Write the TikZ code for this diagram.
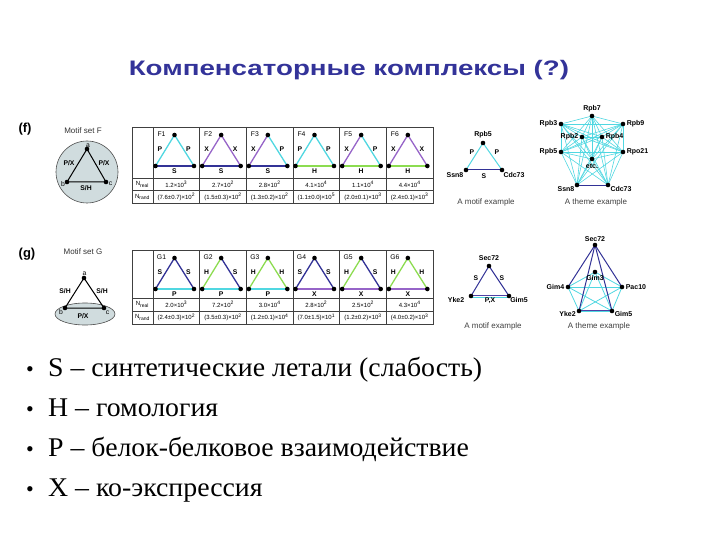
\documentclass[tikz,border=0pt]{standalone}
\usepackage{fontspec}
\setmainfont{Liberation Serif}
\newfontfamily\hv{Liberation Sans}
\usetikzlibrary{backgrounds,shapes.geometric}
\definecolor{cP}{RGB}{80,215,225}
\definecolor{cS}{RGB}{50,50,150}
\definecolor{cX}{RGB}{150,100,200}
\definecolor{cH}{RGB}{140,220,80}
\definecolor{ttl}{RGB}{51,51,153}
\definecolor{mfill}{RGB}{208,220,222}
\newcommand{\tn}[1]{\texttimes10\textsuperscript{#1}}
\newcommand{\mtri}[9]{%
 \node[dot] (#1a) at ({#2+21.5},{#3+8}) {};
 \node[dot] (#1b) at ({#2+2.5},{#3+39}) {};
 \node[dot] (#1c) at ({#2+41},{#3+39}) {};
 \begin{pgfonlayer}{background}
 \draw[tedge,#4] (#1a.center)--(#1b.center);
 \draw[tedge,#6] (#1a.center)--(#1c.center);
 \draw[tedge,#8] (#1b.center)--(#1c.center);
 \end{pgfonlayer}
 \node[cl] (#1n) at ({#2+8.5},{#3+7}) {#1};
 \node[el] (#1l) at ({#2+7},{#3+22}) {#5};
 \node[el] (#1r) at ({#2+35.5},{#3+22}) {#7};
 \node[el] (#1s) at ({#2+21.5},{#3+44}) {#9};
}
\begin{document}
\begin{tikzpicture}[x=1pt,y=-1pt,
 dot/.style={circle,fill=black,minimum size=4.6pt,inner sep=0},
 cl/.style={font=\hv\fontsize{6.8}{7}\selectfont,inner sep=0},
 el/.style={font=\hv\bfseries\fontsize{6.8}{7}\selectfont,inner sep=0},
 num/.style={font=\hv\fontsize{6}{6.5}\selectfont,inner sep=0},
 nl/.style={font=\hv\bfseries\fontsize{7}{7.5}\selectfont,inner sep=0.8pt},
 captxt/.style={font=\hv\fontsize{8}{9}\selectfont,text=black!75,inner sep=0},
 tedge/.style={line width=1.3pt},
 tline/.style={draw=black!75,line width=0.5pt},
 bul/.style={font=\fontsize{27}{30}\selectfont,inner sep=0,anchor=base west,xscale=1.03},
]
\useasboundingbox (0,0) rectangle (720,540);

% title
\node[font=\hv\bfseries\fontsize{21}{24}\selectfont,text=ttl,xscale=1.32] (title) at (349,70) {Компенсаторные комплексы (?)};

% ===== (f) =====
\node[font=\hv\bfseries\fontsize{13}{15}\selectfont,inner sep=0] (flab) at (25,129) {(f)};
\node[captxt,text=black!80] (fset) at (83,131) {Motif set F};
\node[circle,draw=black!70,fill=mfill,minimum size=62pt,inner sep=0,line width=0.6pt] (fcirc) at (87,172) {};
\node[dot] (fa) at (87,149) {};
\node[dot] (fb) at (67,182) {};
\node[dot] (fc) at (106,182) {};
\draw[line width=1pt] (fa.center)--(fb.center)--(fc.center)--cycle;
\node[cl] (fal) at (88,145.5) {a};
\node[cl] (fbl) at (63,184) {b};
\node[cl] (fcl) at (110.5,184) {c};
\node[el] (fpx1) at (69,163) {P/X};
\node[el] (fpx2) at (104,163) {P/X};
\node[el] (fsh) at (86,188) {S/H};

% table F
\draw[tline,line width=0.7pt] (132,127) rectangle (433,203);
\foreach \k in {0,...,5} \draw[tline] ({153+46.67*\k},127) -- ({153+46.67*\k},203);
\draw[tline] (132,178) -- (433,178);
\draw[tline] (132,190.5) -- (433,190.5);
\mtri{F1}{153}{127}{cP}{P}{cP}{P}{cS}{S}
\mtri{F2}{199.67}{127}{cX}{X}{cX}{X}{cS}{S}
\mtri{F3}{246.33}{127}{cX}{X}{cP}{P}{cS}{S}
\mtri{F4}{293}{127}{cP}{P}{cP}{P}{cH}{H}
\mtri{F5}{339.67}{127}{cX}{X}{cP}{P}{cH}{H}
\mtri{F6}{386.33}{127}{cX}{X}{cX}{X}{cH}{H}
\node[num] (Fnr) at (142.5,184.3) {N\textsubscript{real}};
\node[num] (Fnd) at (142.5,196.8) {N\textsubscript{rand}};
\foreach \m/\e [count=\k] in {1.2/3,2.7/2,2.8/2,4.1/4,1.1/4,4.4/4}
 \node[num] (Fr\k) at ({153+46.67*(\k-0.5)},184.3) {\m\tn{\e}};
\foreach \m/\e [count=\k] in {(7.6±0.7)/2,(1.5±0.3)/2,(1.3±0.2)/2,(1.1±0.0)/5,(2.0±0.1)/3,(2.4±0.1)/3}
 \node[num] (Fd\k) at ({153+46.67*(\k-0.5)},196.8) {\m\tn{\e}};

% motif example F
\node[dot] (m1) at (483,143) {};
\node[dot] (m2) at (466,170) {};
\node[dot] (m3) at (502,170) {};
\begin{pgfonlayer}{background}
\draw[cP,line width=1pt] (m1.center)--(m2.center);
\draw[cP,line width=1pt] (m1.center)--(m3.center);
\draw[cS,line width=1pt] (m2.center)--(m3.center);
\end{pgfonlayer}
\node[nl] (m1l) at (483,135) {Rpb5};
\node[nl] (m2l) at (455,175) {Ssn8};
\node[nl] (m3l) at (514,175) {Cdc73};
\node[el] (m12) at (472,152) {P};
\node[el] (m13) at (497,152) {P};
\node[el] (m23) at (484,176) {S};
\node[captxt] (mcap) at (486,202) {A motif example};

% theme example F
\foreach \n/\x/\y [count=\k] in {Rpb7/592/116,Rpb3/561/124,Rpb9/623/124,Rpb2/582/137,Rpb4/602/137,Rpb5/561/152,Rpo21/623/152,etc/592/159,Ssn8/577/185,Cdc73/608/185}
 \node[dot] (t\k) at (\x,\y) {};
\begin{pgfonlayer}{background}
\foreach \i in {1,...,9}{
 \pgfmathtruncatemacro\s{\i+1}
 \foreach \j in {\s,...,10}{
  \ifnum\i=9 \ifnum\j=10 \draw[cS,line width=0.9pt] (t\i.center)--(t\j.center);
  \else \draw[cP,line width=0.6pt] (t\i.center)--(t\j.center); \fi
  \else \draw[cP,line width=0.6pt] (t\i.center)--(t\j.center); \fi
 }}
\end{pgfonlayer}
\node[nl,above=0.5pt] (t1l) at (t1.north) {Rpb7};
\node[nl,left=0.3pt] (t2l) at (t2.west) {Rpb3};
\node[nl,right=0.3pt] (t3l) at (t3.east) {Rpb9};
\node[nl,left=0.3pt] (t4l) at (t4.west) {Rpb2};
\node[nl,right=0.3pt] (t5l) at (t5.east) {Rpb4};
\node[nl,left=0.3pt] (t6l) at (t6.west) {Rpb5};
\node[nl,right=0.3pt] (t7l) at (t7.east) {Rpo21};
\node[nl] (t8l) at (592,166) {etc.};
\node[nl] (t9l) at (566,189.5) {Ssn8};
\node[nl] (t10l) at (621,189.5) {Cdc73};
\node[captxt] (tcap) at (596,202) {A theme example};

% ===== (g) =====
\node[font=\hv\bfseries\fontsize{13}{15}\selectfont,inner sep=0] (glab) at (27,254) {(g)};
\node[captxt,text=black!80] (gset) at (83,251.5) {Motif set G};
\node[ellipse,draw=black!70,fill=mfill,minimum width=60pt,minimum height=22pt,inner sep=0,line width=0.6pt] (gell) at (85,314) {};
\node[dot] (ga) at (84,278) {};
\node[dot] (gb) at (65,308) {};
\node[dot] (gc) at (104,308) {};
\draw[line width=1pt] (ga.center)--(gb.center)--(gc.center)--cycle;
\node[cl] (gal) at (84.5,274) {a};
\node[cl] (gbl) at (61,312) {b};
\node[cl] (gcl) at (107.5,312.5) {c};
\node[el] (gsh1) at (65,291) {S/H};
\node[el] (gsh2) at (102,291) {S/H};
\node[el] (gpx) at (83,316) {P/X};

% table G
\draw[tline,line width=0.7pt] (132,250) rectangle (433,324);
\foreach \k in {0,...,5} \draw[tline] ({153+46.67*\k},250) -- ({153+46.67*\k},324);
\draw[tline] (132,298) -- (433,298);
\draw[tline] (132,311) -- (433,311);
\mtri{G1}{153}{250}{cS}{S}{cS}{S}{cP}{P}
\mtri{G2}{199.67}{250}{cH}{H}{cS}{S}{cP}{P}
\mtri{G3}{246.33}{250}{cH}{H}{cH}{H}{cP}{P}
\mtri{G4}{293}{250}{cS}{S}{cS}{S}{cX}{X}
\mtri{G5}{339.67}{250}{cH}{H}{cS}{S}{cX}{X}
\mtri{G6}{386.33}{250}{cH}{H}{cH}{H}{cX}{X}
\node[num] (Gnr) at (142.5,304.5) {N\textsubscript{real}};
\node[num] (Gnd) at (142.5,317.5) {N\textsubscript{rand}};
\foreach \m/\e [count=\k] in {2.0/3,7.2/2,3.0/4,2.8/2,2.5/2,4.3/4}
 \node[num] (Gr\k) at ({153+46.67*(\k-0.5)},304.5) {\m\tn{\e}};
\foreach \m/\e [count=\k] in {(2.4±0.3)/2,(3.5±0.3)/2,(1.2±0.1)/4,(7.0±1.5)/1,(1.2±0.2)/3,(4.0±0.2)/3}
 \node[num] (Gd\k) at ({153+46.67*(\k-0.5)},317.5) {\m\tn{\e}};

% motif example G
\node[dot] (n1) at (489,266) {};
\node[dot] (n2) at (471,296) {};
\node[dot] (n3) at (509,296) {};
\begin{pgfonlayer}{background}
\draw[cS,line width=1pt] (n1.center)--(n2.center);
\draw[cS,line width=1pt] (n1.center)--(n3.center);
\draw[cS!70!cX,line width=0.9pt,transform canvas={yshift=0.9pt}] (n2.center)--(n3.center);
\draw[cP,line width=1pt,transform canvas={yshift=-1pt}] (n2.center)--(n3.center);
\end{pgfonlayer}
\node[nl] (n1l) at (489,258.5) {Sec72};
\node[nl] (n2l) at (456,300) {Yke2};
\node[nl] (n3l) at (519,300) {Gim5};
\node[el] (n12) at (476,278.5) {S};
\node[el] (n13) at (502,278.5) {S};
\node[el] (n23) at (490,301) {P,X};
\node[captxt] (ncap) at (493,326.5) {A motif example};

% theme example G
\node[dot] (s1) at (595,245) {};
\node[dot] (s2) at (595,272) {};
\node[dot] (s3) at (568,287) {};
\node[dot] (s4) at (622,287) {};
\node[dot] (s5) at (579,311) {};
\node[dot] (s6) at (612,311) {};
\begin{pgfonlayer}{background}
\foreach \i/\j in {2/3,2/4,2/5,2/6,3/4,3/5,3/6,4/5,4/6}
 \draw[cP,line width=0.8pt] (s\i.center)--(s\j.center);
\draw[cP,line width=1pt,transform canvas={yshift=-0.9pt}] (s5.center)--(s6.center);
\draw[cS!70!cX,line width=0.9pt,transform canvas={yshift=0.8pt}] (s5.center)--(s6.center);
\foreach \j in {3,4,5,6}
 \draw[cS,line width=1pt] (s1.center)--(s\j.center);
\end{pgfonlayer}
\node[nl] (s1l) at (595,239.5) {Sec72};
\node[nl] (s2l) at (595,278.5) {Gim3};
\node[nl,left=0.3pt] (s3l) at (s3.west) {Gim4};
\node[nl,right=0.3pt] (s4l) at (s4.east) {Pac10};
\node[nl] (s5l) at (567.5,313.5) {Yke2};
\node[nl] (s6l) at (623.5,313.5) {Gim5};
\node[captxt] (scap) at (599,326.5) {A theme example};

% bullets
\foreach \t [count=\k] in {S – синтетические летали (слабость),H – гомология,P – белок-белковое взаимодействие,X – ко-экспрессия}{
 \node[font=\fontsize{22}{26}\selectfont,inner sep=0,anchor=base] (b\k) at (30,{336+40*\k}) {•};
 \node[bul] (bt\k) at (48,{336+40*\k}) {\t};
}
\end{tikzpicture}
\end{document}
